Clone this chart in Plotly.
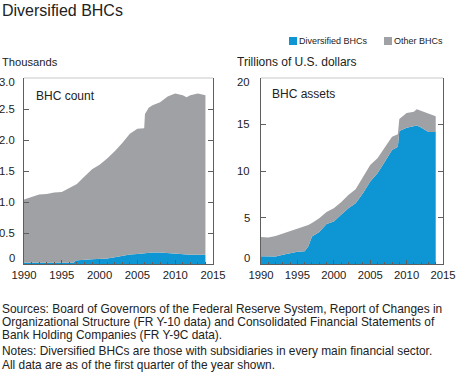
import plotly.graph_objects as go

# ---------------- data ----------------
# BHC count panel (thousands)
count_years = [1990, 1991, 1992, 1993, 1994, 1995, 1996, 1996.6, 1996.75, 1997, 1998, 1999,
               2000, 2001, 2002, 2003, 2004, 2005, 2005.9, 2006, 2006.5, 2007, 2008, 2009,
               2010, 2011, 2011.5, 2012, 2013, 2014]
count_diversified = [0.02, 0.02, 0.02, 0.02, 0.02, 0.02, 0.02, 0.02, 0.055, 0.06, 0.07, 0.075,
                     0.08, 0.09, 0.11, 0.135, 0.155, 0.16, 0.17, 0.175, 0.18, 0.185, 0.185, 0.175,
                     0.16, 0.15, 0.15, 0.15, 0.15, 0.15]
count_other = [1.02, 1.06, 1.10, 1.11, 1.135, 1.14, 1.21, 1.24, 1.215, 1.23, 1.34, 1.455,
               1.52, 1.61, 1.71, 1.815, 1.945, 2.02, 2.02, 2.245, 2.34, 2.375, 2.425, 2.525,
               2.59, 2.57, 2.54, 2.57, 2.60, 2.57]

# BHC assets panel (trillions of U.S. dollars)
asset_years = [1990, 1991, 1992, 1993, 1994, 1995, 1996, 1996.5, 1997, 1998, 1999, 2000,
               2001, 2002, 2003, 2004, 2005, 2006, 2007, 2008, 2008.8, 2009, 2010, 2011,
               2011.4, 2012, 2013, 2014]
asset_diversified = [0.82, 0.79, 0.80, 1.0, 1.18, 1.32, 1.36, 1.9, 2.96, 3.43, 4.29, 4.57,
                     5.29, 6.0, 6.54, 7.6, 8.86, 9.75, 11.0, 12.25, 12.6, 14.3, 14.64, 14.8,
                     14.9, 14.68, 14.2, 14.2]
asset_other = [2.08, 2.07, 2.2, 2.25, 2.39, 2.5, 2.68, 2.3, 1.44, 1.5, 1.31, 1.43,
               1.35, 1.43, 1.5, 1.8, 1.78, 1.61, 1.54, 1.43, 1.36, 1.3, 1.61, 1.56,
               1.74, 1.78, 1.98, 1.7]

x_ticks = [1990, 1995, 2000, 2005, 2010, 2015]
count_ticks = [0, 0.5, 1.0, 1.5, 2.0, 2.5, 3.0]
count_ticktext = ["0", "0.5", "1.0", "1.5", "2.0", "2.5", "3.0"]
asset_ticks = [0, 5, 10, 15, 20]
asset_ticktext = ["0", "5", "10", "15", "20"]
series_names = ["Diversified BHCs", "Other BHCs"]

# ---------------- style ----------------
W, H = 460, 381
BLUE = "#0e96d4"
GRAY = "#a0a1a5"
AXIS = "#5f5f5f"
TEXT = "#222222"
FONT = "Liberation Sans, Arial, sans-serif"
TICK_SIZE = 11.3


def px(x):
    return x / W


def py(y):
    return 1 - y / H


fig = go.Figure()

for xs, dv, ot, xa, ya in [
    (count_years, count_diversified, count_other, "x", "y"),
    (asset_years, asset_diversified, asset_other, "x2", "y2"),
]:
    fig.add_trace(go.Scatter(x=xs, y=dv, mode="lines", stackgroup=xa, line=dict(width=0, color=BLUE),
                             fillcolor=BLUE, name=series_names[0], showlegend=False,
                             xaxis=xa, yaxis=ya, hoverinfo="skip"))
    fig.add_trace(go.Scatter(x=xs, y=ot, mode="lines", stackgroup=xa, line=dict(width=0, color=GRAY),
                             fillcolor=GRAY, name=series_names[1], showlegend=False,
                             xaxis=xa, yaxis=ya, hoverinfo="skip"))

xcommon = dict(range=[1990, 2015], tickvals=x_ticks, ticks="inside", ticklen=4, tickcolor=AXIS,
               minor=dict(dtick=1, ticks="inside", ticklen=2, tickcolor=AXIS, showgrid=False),
               showline=True, linecolor=AXIS, linewidth=1, showgrid=False, zeroline=False,
               automargin=False,
               tickfont=dict(size=TICK_SIZE, color=TEXT, family=FONT), fixedrange=True)
ycommon = dict(ticks="inside", ticklen=5, tickcolor=AXIS, showline=True, linecolor=AXIS, linewidth=1,
               mirror="ticks", showgrid=False, zeroline=False, showticklabels=False,
               automargin=False, fixedrange=True)

ydom = [py(264), py(78)]
fig.update_layout(
    width=W, height=H, autosize=False,
    margin=dict(l=0, r=0, t=0, b=0, pad=0, autoexpand=False),
    paper_bgcolor="white", plot_bgcolor="white",
    font=dict(family=FONT, color=TEXT),
    showlegend=False,
    xaxis=dict(domain=[px(24), px(213)], anchor="y", **xcommon),
    yaxis=dict(domain=ydom, anchor="x", range=[0, 3], tickvals=count_ticks, **ycommon),
    xaxis2=dict(domain=[px(261), px(443)], anchor="y2", **xcommon),
    yaxis2=dict(domain=ydom, anchor="x2", range=[0, 20], tickvals=asset_ticks, **ycommon),
)

# light top border of each panel
for xr, yr in [("x domain", "y domain"), ("x2 domain", "y2 domain")]:
    fig.add_shape(type="line", xref=xr, yref=yr, x0=0, x1=1, y0=1, y1=1,
                  line=dict(color="#c8c8c8", width=1), layer="above")

ann = []

# y tick labels placed on each axis scale (end labels nudged inside the frame, as in the original)
for ya, xd, vals, texts, gap in [("y", "x domain", count_ticks, count_ticktext, 7),
                                 ("y2", "x2 domain", asset_ticks, asset_ticktext, 9)]:
    for i, (v, t) in enumerate(zip(vals, texts)):
        shift = 6 if i == 0 else (-4 if i == len(vals) - 1 else 0)
        ann.append(dict(x=0, y=v, xref=xd, yref=ya, text=t, showarrow=False, xanchor="right",
                        yanchor="middle", xshift=-gap, yshift=shift,
                        font=dict(size=TICK_SIZE, color=TEXT, family=FONT)))


def text(x, y, s, size, anchor="left"):
    ann.append(dict(x=px(x), y=py(y), xref="paper", yref="paper", text=s, showarrow=False,
                    xanchor=anchor, yanchor="middle", font=dict(size=size, color=TEXT, family=FONT)))


text(0, 10, "Diversified BHCs", 16)
text(0, 62, "Thousands", 11.2)
text(235, 62, "Trillions of U.S. dollars", 12)
text(34, 96, "BHC count", 12)
text(270, 94, "BHC assets", 12)

# legend
for (x0, label, color) in [(289, series_names[0], BLUE), (384, series_names[1], GRAY)]:
    fig.add_shape(type="rect", xref="paper", yref="paper", x0=px(x0), x1=px(x0 + 8),
                  y0=py(45), y1=py(37), fillcolor=color, line=dict(width=0))
    text(x0 + 8, 41, label, 9)

notes = [
    (309, "Sources: Board of Governors of the Federal Reserve System, Report of Changes in"),
    (322, "Organizational Structure (FR Y-10 data) and Consolidated Financial Statements of"),
    (335.3, "Bank Holding Companies (FR Y-9C data)."),
    (351.2, "Notes: Diversified BHCs are those with subsidiaries in every main financial sector."),
    (364.5, "All data are as of the first quarter of the year shown."),
]
for y, s in notes:
    text(0, y, s, 11.9)

fig.update_layout(annotations=ann)
fig.write_html("out.html", config={"displayModeBar": False},
               post_script="document.body.style.margin='0';")
